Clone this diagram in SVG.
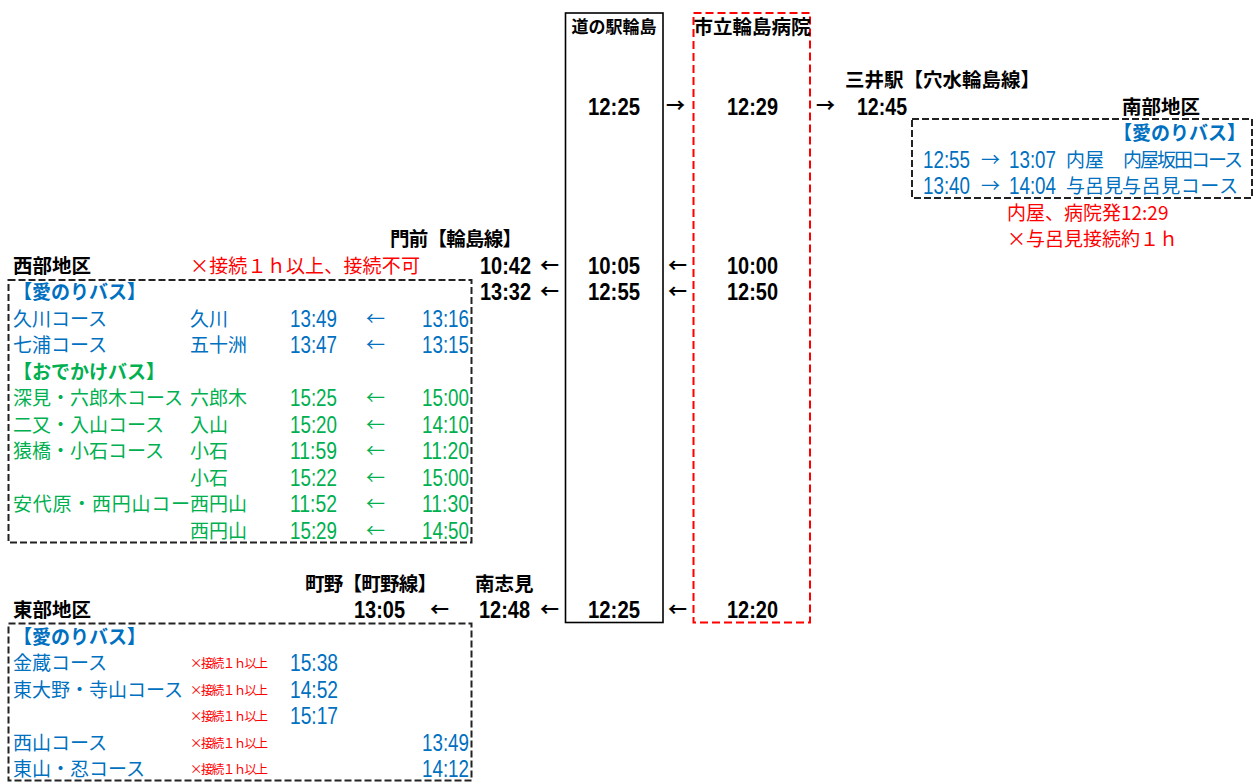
<svg xmlns="http://www.w3.org/2000/svg" width="1259" height="783" viewBox="0 0 1259 783">
<style>
text{font-family:"Noto Sans CJK JP","Noto Sans CJK SC",sans-serif;}
.h{font-size:19.5px;font-weight:700;fill:#000;}
.hs{font-size:17px;font-weight:700;fill:#000;}
.tk{font-family:"Liberation Sans",Arial,sans-serif;font-size:23px;font-weight:700;fill:#000;}
.ak{font-size:19px;font-weight:700;fill:#000;}
.b{font-size:19px;fill:#0070C0;}
.bb{font-size:19px;font-weight:700;fill:#0070C0;}
.bt{font-family:"Liberation Sans",Arial,sans-serif;font-size:23px;fill:#0070C0;}
.g{font-size:19px;fill:#00B050;}
.gb{font-size:19px;font-weight:700;fill:#00B050;}
.gt{font-family:"Liberation Sans",Arial,sans-serif;font-size:23px;fill:#00B050;}
.r{font-size:19px;fill:#FF0000;}
.rs{font-size:12.5px;fill:#FF0000;}
.solid{fill:none;stroke:#000;stroke-width:1.6;}
.dk{fill:none;stroke:#222;stroke-width:2;stroke-dasharray:7 3;}
.dr{fill:none;stroke:#FF0000;stroke-width:2;stroke-dasharray:8 4;}
.m{text-anchor:middle;}
.e{text-anchor:end;}
</style>
<rect width="1259" height="783" fill="#fff"/>

<g id="michinoeki-wajima">
<rect class="solid" x="565.5" y="13" width="97.5" height="609.5"/>
<text class="hs m" x="614" y="33">道の駅輪島</text>
<text class="tk m" x="614" y="114.5" textLength="52" lengthAdjust="spacingAndGlyphs">12:25</text>
<text class="tk m" x="614" y="273.5" textLength="52" lengthAdjust="spacingAndGlyphs">10:05</text>
<text class="tk m" x="614" y="300" textLength="52" lengthAdjust="spacingAndGlyphs">12:55</text>
<text class="tk m" x="614" y="618" textLength="52" lengthAdjust="spacingAndGlyphs">12:25</text>
</g>

<g id="wajima-hospital">
<rect class="dr" x="693.5" y="13" width="116.5" height="609.5"/>
<text class="h m" x="752" y="34">市立輪島病院</text>
<text class="tk m" x="752.5" y="114.5" textLength="51" lengthAdjust="spacingAndGlyphs">12:29</text>
<text class="tk m" x="752.5" y="273.5" textLength="51" lengthAdjust="spacingAndGlyphs">10:00</text>
<text class="tk m" x="752.5" y="300" textLength="51" lengthAdjust="spacingAndGlyphs">12:50</text>
<text class="tk m" x="752.5" y="618" textLength="51" lengthAdjust="spacingAndGlyphs">12:20</text>
</g>

<g id="mitsui-station">
<text class="h" x="845" y="87" textLength="195">三井駅【穴水輪島線】</text>
<text class="tk" x="857" y="114.5" textLength="50" lengthAdjust="spacingAndGlyphs">12:45</text>
</g>

<g id="south-area">
<text class="h" x="1122" y="113.5">南部地区</text>
<rect class="dk" x="912" y="119" width="340" height="79"/>
<text class="bb e" x="1246" y="140">【愛のりバス】</text>
<text class="bt" x="923" y="167.5" textLength="47" lengthAdjust="spacingAndGlyphs">12:55</text>
<text class="b" x="981" y="166.5">→</text>
<text class="bt" x="1009" y="167.5" textLength="47" lengthAdjust="spacingAndGlyphs">13:07</text>
<text class="b" x="1066" y="166.5">内屋</text>
<text class="b" x="1123" y="166.5" textLength="120">内屋坂田コース</text>
<text class="bt" x="923" y="194" textLength="47" lengthAdjust="spacingAndGlyphs">13:40</text>
<text class="b" x="981" y="193">→</text>
<text class="bt" x="1009" y="194" textLength="47" lengthAdjust="spacingAndGlyphs">14:04</text>
<text class="b" x="1066" y="193">与呂見</text>
<text class="b" x="1122" y="193" textLength="116">与呂見コース</text>
<text class="r" x="1007" y="219.5">内屋、病院発12:29</text>
<text class="r" x="1007" y="246">×与呂見接続約１ｈ</text>
</g>

<g id="monzen-station">
<text class="h" x="390" y="246" textLength="132">門前【輪島線】</text>
<text class="tk" x="480" y="273.5" textLength="51" lengthAdjust="spacingAndGlyphs">10:42</text>
<text class="tk" x="480" y="300" textLength="51" lengthAdjust="spacingAndGlyphs">13:32</text>
</g>

<g id="west-area">
<text class="h" x="13" y="272.5">西部地区</text>
<text class="r" x="190" y="272.5" textLength="230">×接続１ｈ以上、接続不可</text>
<rect class="dk" x="8.5" y="280" width="463" height="262.5"/>
<text class="bb" x="13" y="299">【愛のりバス】</text>
<text class="b" x="13" y="325.5">久川コース</text>
<text class="b" x="190" y="325.5">久川</text>
<text class="bt" x="290" y="326.5" textLength="47" lengthAdjust="spacingAndGlyphs">13:49</text>
<text class="b" x="366" y="325.5">←</text>
<text class="bt e" x="469" y="326.5" textLength="47" lengthAdjust="spacingAndGlyphs">13:16</text>
<text class="b" x="13" y="352">七浦コース</text>
<text class="b" x="190" y="352">五十洲</text>
<text class="bt" x="290" y="353" textLength="47" lengthAdjust="spacingAndGlyphs">13:47</text>
<text class="b" x="366" y="352">←</text>
<text class="bt e" x="469" y="353" textLength="47" lengthAdjust="spacingAndGlyphs">13:15</text>
<text class="gb" x="13" y="378.5">【おでかけバス】</text>
<text class="g" x="13" y="405">深見・六郎木コース</text>
<text class="g" x="190" y="405">六郎木</text>
<text class="gt" x="290" y="406" textLength="47" lengthAdjust="spacingAndGlyphs">15:25</text>
<text class="g" x="366" y="405">←</text>
<text class="gt e" x="469" y="406" textLength="47" lengthAdjust="spacingAndGlyphs">15:00</text>
<text class="g" x="13" y="431.5">二又・入山コース</text>
<text class="g" x="190" y="431.5">入山</text>
<text class="gt" x="290" y="432.5" textLength="47" lengthAdjust="spacingAndGlyphs">15:20</text>
<text class="g" x="366" y="431.5">←</text>
<text class="gt e" x="469" y="432.5" textLength="47" lengthAdjust="spacingAndGlyphs">14:10</text>
<text class="g" x="13" y="458">猿橋・小石コース</text>
<text class="g" x="190" y="458">小石</text>
<text class="gt" x="290" y="459" textLength="47" lengthAdjust="spacingAndGlyphs">11:59</text>
<text class="g" x="366" y="458">←</text>
<text class="gt e" x="469" y="459" textLength="47" lengthAdjust="spacingAndGlyphs">11:20</text>
<text class="g" x="190" y="484.5">小石</text>
<text class="gt" x="290" y="485.5" textLength="47" lengthAdjust="spacingAndGlyphs">15:22</text>
<text class="g" x="366" y="484.5">←</text>
<text class="gt e" x="469" y="485.5" textLength="47" lengthAdjust="spacingAndGlyphs">15:00</text>
<text class="g" x="13" y="511" textLength="177">安代原・西円山コー</text>
<text class="g" x="190" y="511">西円山</text>
<text class="gt" x="290" y="512" textLength="47" lengthAdjust="spacingAndGlyphs">11:52</text>
<text class="g" x="366" y="511">←</text>
<text class="gt e" x="469" y="512" textLength="47" lengthAdjust="spacingAndGlyphs">11:30</text>
<text class="g" x="190" y="537.5">西円山</text>
<text class="gt" x="290" y="538.5" textLength="47" lengthAdjust="spacingAndGlyphs">15:29</text>
<text class="g" x="366" y="537.5">←</text>
<text class="gt e" x="469" y="538.5" textLength="47" lengthAdjust="spacingAndGlyphs">14:50</text>
</g>

<g id="machino-station">
<text class="h" x="305" y="590.5" textLength="132">町野【町野線】</text>
<text class="tk" x="354" y="618" textLength="51" lengthAdjust="spacingAndGlyphs">13:05</text>
</g>

<g id="nafurumi-station">
<text class="h" x="475" y="590.5">南志見</text>
<text class="tk" x="479" y="618" textLength="51" lengthAdjust="spacingAndGlyphs">12:48</text>
</g>

<g id="east-area">
<text class="h" x="13" y="617">東部地区</text>
<rect class="dk" x="8.5" y="623.5" width="463" height="157"/>
<text class="bb" x="13" y="643.5">【愛のりバス】</text>
<text class="b" x="13" y="670">金蔵コース</text>
<text class="rs" x="190" y="668" textLength="78">×接続１ｈ以上</text>
<text class="bt" x="290" y="671" textLength="48" lengthAdjust="spacingAndGlyphs">15:38</text>
<text class="b" x="13" y="696.5">東大野・寺山コース</text>
<text class="rs" x="190" y="694.5" textLength="78">×接続１ｈ以上</text>
<text class="bt" x="290" y="697.5" textLength="48" lengthAdjust="spacingAndGlyphs">14:52</text>
<text class="rs" x="190" y="721" textLength="78">×接続１ｈ以上</text>
<text class="bt" x="290" y="724" textLength="48" lengthAdjust="spacingAndGlyphs">15:17</text>
<text class="b" x="13" y="749.5">西山コース</text>
<text class="rs" x="190" y="747.5" textLength="78">×接続１ｈ以上</text>
<text class="bt e" x="469" y="750.5" textLength="47" lengthAdjust="spacingAndGlyphs">13:49</text>
<text class="b" x="13" y="776">東山・忍コース</text>
<text class="rs" x="190" y="774" textLength="78">×接続１ｈ以上</text>
<text class="bt e" x="469" y="777" textLength="47" lengthAdjust="spacingAndGlyphs">14:12</text>
</g>

<g id="connectors">
<text class="ak" x="666" y="113">→</text>
<text class="ak" x="816" y="113">→</text>
<text class="ak" x="540" y="272.5">←</text>
<text class="ak" x="668" y="272.5">←</text>
<text class="ak" x="540" y="299">←</text>
<text class="ak" x="668" y="299">←</text>
<text class="ak" x="430" y="617">←</text>
<text class="ak" x="540" y="617">←</text>
<text class="ak" x="668" y="617">←</text>
</g>
</svg>
